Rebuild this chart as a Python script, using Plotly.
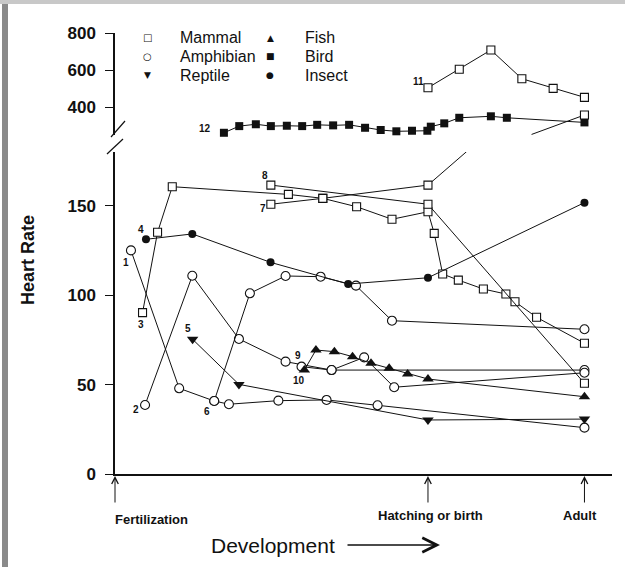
import plotly.graph_objects as go

# ---------------- data (x: development units; 0 = fertilization, 10 = hatching/birth, 15 = adult) -------------
# lower panel (heart rate 0-180)
amph1_x = [0.51, 2.05, 3.17, 3.64, 5.22, 6.76, 8.39, 15.0]
amph1_y = [125.0, 47.9, 40.8, 39.0, 41.0, 41.4, 38.4, 25.9]

amph2_x = [0.96, 2.47, 3.96, 5.45, 6.92, 15.0]
amph2_y = [38.6, 110.8, 75.5, 62.8, 58.1, 58.1]

amph6_x = [3.17, 4.31, 5.45, 6.57, 7.70, 8.85, 15.0]
amph6_y = [40.8, 101.0, 110.7, 110.3, 105.3, 85.7, 80.9]

amph9_x = [5.96, 6.92, 7.96, 8.92, 15.0]
amph9_y = [60.0, 58.1, 65.2, 48.5, 56.6]

rept5_x = [2.48, 3.96, 10.0, 15.0]
rept5_y = [75.3, 50.1, 30.2, 30.7]

fish10_x = [6.05, 6.42, 7.01, 7.59, 8.18, 8.76, 9.35, 10.0, 15.0]
fish10_y = [58.1, 69.3, 68.4, 65.6, 61.9, 59.1, 55.9, 53.1, 43.2]

insect4_x = [0.99, 2.47, 4.97, 7.45, 10.0, 15.0]
insect4_y = [131.2, 134.2, 118.3, 106.2, 109.7, 151.7]

mam3_x = [0.88, 1.36, 1.83, 5.54, 6.64, 7.72, 8.85, 10.0, 10.2, 10.47, 10.97, 11.77, 12.49, 12.78, 13.47, 15.0]
mam3_y = [90.2, 135.1, 160.6, 156.3, 154.1, 149.4, 142.4, 146.6, 134.5, 111.8, 108.4, 103.4, 100.6, 96.3, 87.6, 73.1]

mam7_x = [4.98, 6.64, 10.0]
mam7_y = [150.8, 154.1, 161.5]
mam7_off_lower_x = [10.0, 11.24]      # line running off the top of the lower scale
mam7_off_lower_y = [161.5, 180.3]
mam7_upper_x = [13.31, 15.0]          # continues on the upper scale to the adult value
mam7_upper_y = [252.0, 357.0]

mam8_x = [4.98, 10.0, 15.0]
mam8_y = [161.5, 150.8, 50.7]

# upper panel (heart rate 250-800)
mam11_x = [10.0, 11.0, 12.01, 13.0, 14.0, 15.0]
mam11_y = [504.3, 603.8, 708.1, 553.0, 501.0, 452.5]

bird12_x = [3.48, 3.97, 4.50, 4.98, 5.49, 5.98, 6.46, 6.97, 7.48, 7.99, 8.49, 8.99, 9.49,
            9.98, 10.09, 10.52, 11.0, 12.01, 12.52, 15.0]
bird12_y = [261, 297, 307, 297, 299, 297, 304, 301, 304, 288, 276, 269, 272,
            272, 294, 312, 342, 350, 342, 317]

# series number labels: (text, x, y, panel)
series_labels = [("1", 0.35, 118.5, "y"), ("2", 0.67, 35.8, "y"), ("3", 0.83, 83.7, "y"),
                 ("4", 0.82, 136.8, "y"), ("5", 2.34, 81.1, "y"), ("6", 2.93, 35.2, "y"),
                 ("7", 4.74, 148.5, "y"), ("8", 4.79, 167.1, "y"), ("9", 5.85, 66.1, "y"),
                 ("10", 5.89, 52.5, "y"), ("11", 9.71, 540.6, "y2"), ("12", 2.88, 284.9, "y2")]

lower_ticks = [0, 50, 100, 150]
upper_ticks = [400, 600, 800]
stage_x = [0.0, 10.0, 15.0]
stage_labels = ["Fertilization", "Hatching or birth", "Adult"]

legend_names = ["Mammal", "Amphibian", "Reptile", "Fish", "Bird", "Insect"]
legend_glyphs = ["\u25a1", "\u25cb", "\u25bc", "\u25b2", "\u25a0", "\u25cf"]

# ---------------- styles -------------
FONT = "Liberation Sans, Arial, Helvetica, sans-serif"
BLACK = "#111111"
styles = {
    "mammal": dict(symbol="square", size=8, color="white", line=dict(color=BLACK, width=1.1)),
    "amph": dict(symbol="circle", size=9, color="white", line=dict(color=BLACK, width=1.1)),
    "rept": dict(symbol="triangle-down", size=10, color=BLACK, line=dict(width=0)),
    "fish": dict(symbol="triangle-up", size=10, color=BLACK, line=dict(width=0)),
    "bird": dict(symbol="square", size=8, color=BLACK, line=dict(width=0)),
    "insect": dict(symbol="circle", size=8, color=BLACK, line=dict(width=0)),
}

fig = go.Figure()

def add_series(x, y, kind, yaxis="y", mode="lines+markers"):
    fig.add_trace(go.Scatter(x=x, y=y, mode=mode, yaxis=yaxis, xaxis="x",
                             line=dict(color=BLACK, width=1),
                             marker=styles[kind], cliponaxis=False, showlegend=False,
                             hoverinfo="x+y"))

# connector lines first (underneath)
fig.add_trace(go.Scatter(x=mam7_off_lower_x, y=mam7_off_lower_y, mode="lines", yaxis="y",
                         line=dict(color=BLACK, width=1), showlegend=False))
fig.add_trace(go.Scatter(x=mam7_upper_x, y=mam7_upper_y, mode="lines", yaxis="y2",
                         line=dict(color=BLACK, width=1), showlegend=False))

add_series(mam3_x, mam3_y, "mammal")
add_series(mam7_x, mam7_y, "mammal")
add_series(mam8_x, mam8_y, "mammal")
add_series(amph1_x, amph1_y, "amph")
add_series(amph2_x, amph2_y, "amph")
add_series(amph6_x, amph6_y, "amph")
add_series(amph9_x, amph9_y, "amph")
add_series(rept5_x, rept5_y, "rept")
add_series(fish10_x, fish10_y, "fish")
add_series(insect4_x, insect4_y, "insect")
add_series(bird12_x, bird12_y, "bird", yaxis="y2")
add_series(mam11_x, mam11_y, "mammal", yaxis="y2")
add_series(mam7_upper_x[-1:], mam7_upper_y[-1:], "mammal", yaxis="y2", mode="markers")

# ---------------- layout -------------
L, R, T, B = 115, 13, 33, 93
W, H = 625, 567
PW, PH = W - L - R, H - T - B

def px(xp):
    return (xp - L) / PW

def py(yp):
    return (H - B - yp) / PH

axis_font = dict(family=FONT, size=17, color=BLACK)

fig.update_layout(
    width=W, height=H,
    margin=dict(l=L, r=R, t=T, b=B, pad=0),
    paper_bgcolor="white", plot_bgcolor="white",
    showlegend=False,
    font=dict(family=FONT, color=BLACK),
    xaxis=dict(range=[0, 15.88], showgrid=False, zeroline=False, showticklabels=False,
               ticks="", showline=True, linecolor=BLACK, linewidth=1.5, anchor="y"),
    yaxis=dict(domain=[0, py(152)], range=[0, 180], tickvals=lower_ticks,
               ticktext=[f"<b>{v}</b>" for v in lower_ticks],
               showgrid=False, zeroline=False, showline=True, linecolor=BLACK, linewidth=1.5,
               ticks="outside", ticklen=8, tickwidth=1, tickcolor=BLACK,
               tickfont=axis_font, ticklabelstandoff=6, anchor="x"),
    yaxis2=dict(domain=[py(135), 1], range=[249, 800], tickvals=upper_ticks,
                ticktext=[f"<b>{v}</b>" for v in upper_ticks],
                showgrid=False, zeroline=False, showline=True, linecolor=BLACK, linewidth=1.5,
                ticks="outside", ticklen=8, tickwidth=1, tickcolor=BLACK,
                tickfont=axis_font, ticklabelstandoff=6, anchor="x"),
)

ann = []
# series number labels
for txt, x, y, ax in series_labels:
    ann.append(dict(text=f"<b>{txt}</b>", x=x, y=y, xref="x", yref=ax, showarrow=False,
                    xanchor="center", yanchor="middle",
                    font=dict(family=FONT, size=10, color=BLACK)))

# development stage arrows and labels
for sx, lab, lx, ly in zip(stage_x, stage_labels, [151, 430, 580], [519, 515, 515]):
    ann.append(dict(text="", x=sx, y=0, xref="x", yref="y", ax=0, ay=30, showarrow=True,
                    arrowhead=5, arrowsize=1.3, arrowwidth=1, arrowcolor=BLACK, standoff=2))
    ann.append(dict(text=f"<b>{lab}</b>", x=px(lx), y=py(ly), xref="paper", yref="paper",
                    xanchor="center", yanchor="middle",
                    showarrow=False, font=dict(family=FONT, size=13, color=BLACK)))

# axis titles
ann.append(dict(text="<b>Heart Rate</b>", x=px(28), y=py(260), xref="paper", yref="paper",
                xanchor="center", yanchor="middle",
                showarrow=False, textangle=-90, font=dict(family=FONT, size=18, color=BLACK)))
ann.append(dict(text="Development", x=px(273), y=py(545), xref="paper", yref="paper",
                xanchor="center", yanchor="middle",
                showarrow=False, font=dict(family=FONT, size=21, color=BLACK)))
ann.append(dict(text="", x=px(440), y=py(545), xref="paper", yref="paper", ax=-94, ay=0,
                showarrow=True, arrowhead=5, arrowsize=2.2, arrowwidth=1.3, arrowcolor=BLACK))

# legend (two columns of three)
for i, (name, glyph) in enumerate(zip(legend_names, legend_glyphs)):
    col, row = divmod(i, 3)
    gx = [147, 270][col]
    tx = [178, 303][col]
    yy = [38, 56.5, 75][row]
    gsize = 10 if glyph in ("\u25a1", "\u25cb") else 9
    ann.append(dict(text=glyph, x=px(gx), y=py(yy), xref="paper", yref="paper", showarrow=False,
                    xanchor="center", yanchor="middle",
                    font=dict(family="DejaVu Sans", size=gsize, color=BLACK)))
    ann.append(dict(text=name, x=px(tx), y=py(yy), xref="paper", yref="paper", xanchor="left",
                    yanchor="middle",
                    showarrow=False, font=dict(family=FONT, size=16, color=BLACK)))

fig.update_layout(annotations=ann)

# axis break marks and scan edges
shapes = [
    dict(type="line", xref="paper", yref="paper", x0=px(111), y0=py(137), x1=px(125), y1=py(121),
         line=dict(color=BLACK, width=1.2)),
    dict(type="line", xref="paper", yref="paper", x0=px(107), y0=py(154), x1=px(123), y1=py(139),
         line=dict(color=BLACK, width=1.2)),
    dict(type="rect", xref="paper", yref="paper", x0=px(2), x1=px(8), y0=py(567), y1=py(0),
         fillcolor="#8a8a8a", line=dict(width=0), layer="below"),
    dict(type="rect", xref="paper", yref="paper", x0=px(0), x1=px(625), y0=py(4), y1=py(0),
         fillcolor="#c8c8c8", line=dict(width=0), layer="below"),
]
fig.update_layout(shapes=shapes)

fig.write_html("out.html", config={"displayModeBar": False},
               post_script="document.body.style.margin='0';document.body.style.overflow='hidden';")
